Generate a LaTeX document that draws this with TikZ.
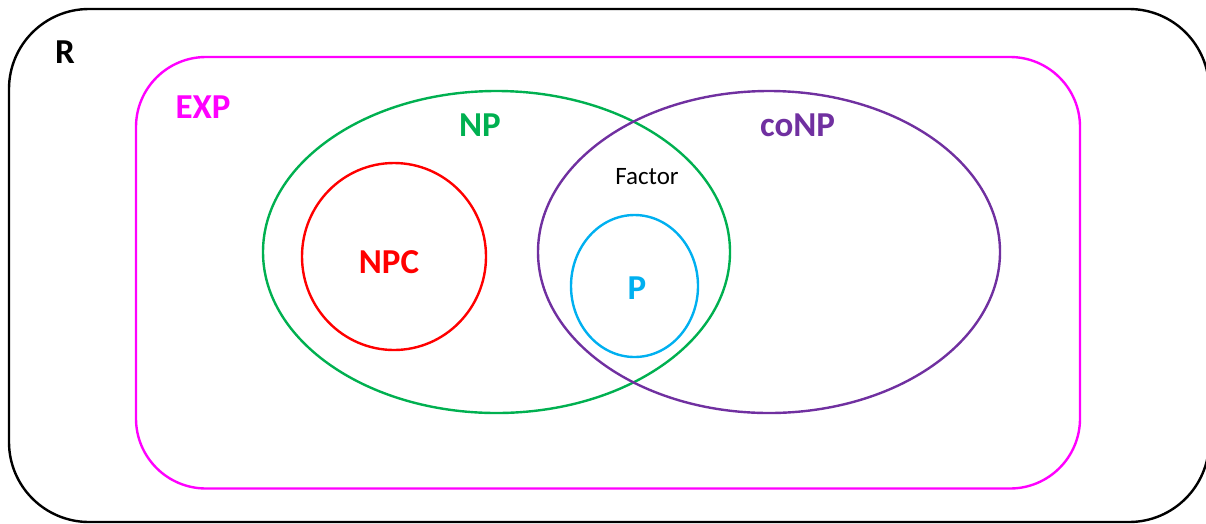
\documentclass[tikz,border=0pt]{standalone}
\usepackage{fontspec}
\setmainfont{Carlito}
\definecolor{expc}{HTML}{FF00FF}
\definecolor{npc}{HTML}{00B050}
\definecolor{conpc}{HTML}{7030A0}
\definecolor{npcc}{HTML}{FF0000}
\definecolor{pc}{HTML}{00B0F0}
\tikzset{
  setline/.style={line width=2.4pt},
  biglabel/.style={anchor=base, inner sep=0pt, font=\fontsize{35}{40}\selectfont\bfseries},
  smalllabel/.style={anchor=base, inner sep=0pt, font=\fontsize{25}{29}\selectfont},
}
\begin{document}
\begin{tikzpicture}[x=1pt,y=-1pt]
\useasboundingbox (0,0) rectangle (1206,523);
\clip (0,0) rectangle (1206,523);
% outer R
\draw[setline, black, rounded corners=80pt] (9,9) rectangle (1209,522);
% EXP
\draw[setline, expc, rounded corners=70pt] (136,57) rectangle (1080,488.5);
% NP
\draw[setline, npc] (496.5,252) ellipse [x radius=233.5, y radius=161];
% coNP
\draw[setline, conpc] (769,252) ellipse [x radius=231, y radius=161];
% NPC
\draw[setline, npcc] (394,256.5) ellipse [x radius=92, y radius=93.5];
% P
\draw[setline, pc] (634.5,286) ellipse [x radius=63.5, y radius=71];
% labels
\node[biglabel, text=black] (lR) at (65,63) {R};
\node[biglabel, text=expc] (lEXP) at (203,118) {EXP};
\node[biglabel, text=npc] (lNP) at (480,136) {NP};
\node[biglabel, text=conpc] (lcoNP) at (797.5,136) {coNP};
\node[biglabel, text=npcc] (lNPC) at (389,273) {NPC};
\node[biglabel, text=pc] (lP) at (637,299) {P};
\node[smalllabel, text=black] (lFactor) at (647,184) {Factor};
\end{tikzpicture}
\end{document}
